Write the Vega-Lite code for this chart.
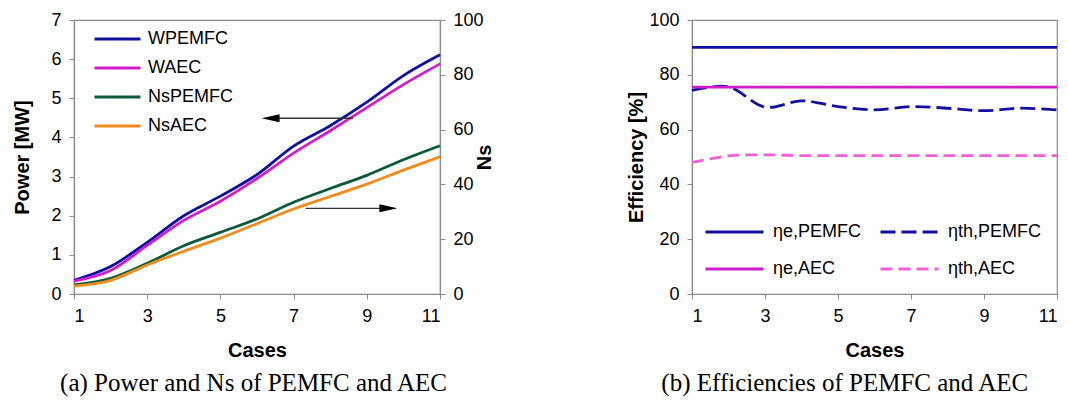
{
  "$schema": "https://vega.github.io/schema/vega-lite/v6.json",
  "padding": {"left": 12, "top": 10, "right": 5, "bottom": 5},
  "background": "white",
  "config": {
    "view": {"stroke": "#8c8c8c", "strokeWidth": 1.2},
    "axis": {
      "grid": false, "domainColor": "#8c8c8c", "domainWidth": 1.2, "tickColor": "#8c8c8c", "tickSize": 5,
      "labelFont": "Liberation Sans", "labelFontSize": 18, "labelColor": "black", "labelPadding": 8,
      "titleFont": "Liberation Sans", "titleFontSize": 20, "titleFontWeight": "bold", "titleColor": "black"
    },
    "legend": {
      "labelFont": "Liberation Sans", "labelFontSize": 18, "labelColor": "black", "symbolType": "M-1,0H3", "symbolStrokeWidth": 2.8
    },
    "title": {"font": "Liberation Serif", "fontSize": 25, "fontWeight": "normal", "color": "black", "orient": "bottom", "anchor": "middle", "frame": "bounds", "offset": 11}
  },
  "datasets": {
    "power": [
      {"series": "WPEMFC", "case": 1, "value": 0.35}, {"series": "WPEMFC", "case": 2, "value": 0.70}, {"series": "WPEMFC", "case": 3, "value": 1.32}, {"series": "WPEMFC", "case": 4, "value": 2.00}, {"series": "WPEMFC", "case": 5, "value": 2.50}, {"series": "WPEMFC", "case": 6, "value": 3.05}, {"series": "WPEMFC", "case": 7, "value": 3.78}, {"series": "WPEMFC", "case": 8, "value": 4.30}, {"series": "WPEMFC", "case": 9, "value": 4.90}, {"series": "WPEMFC", "case": 10, "value": 5.58}, {"series": "WPEMFC", "case": 11, "value": 6.11},
      {"series": "WAEC", "case": 1, "value": 0.33}, {"series": "WAEC", "case": 2, "value": 0.60}, {"series": "WAEC", "case": 3, "value": 1.24}, {"series": "WAEC", "case": 4, "value": 1.88}, {"series": "WAEC", "case": 5, "value": 2.37}, {"series": "WAEC", "case": 6, "value": 2.95}, {"series": "WAEC", "case": 7, "value": 3.60}, {"series": "WAEC", "case": 8, "value": 4.17}, {"series": "WAEC", "case": 9, "value": 4.76}, {"series": "WAEC", "case": 10, "value": 5.35}, {"series": "WAEC", "case": 11, "value": 5.88}
    ],
    "ns": [
      {"series": "NsPEMFC", "case": 1, "value": 3.3}, {"series": "NsPEMFC", "case": 2, "value": 5.7}, {"series": "NsPEMFC", "case": 3, "value": 11.2}, {"series": "NsPEMFC", "case": 4, "value": 17.6}, {"series": "NsPEMFC", "case": 5, "value": 22.5}, {"series": "NsPEMFC", "case": 6, "value": 27.4}, {"series": "NsPEMFC", "case": 7, "value": 33.5}, {"series": "NsPEMFC", "case": 8, "value": 38.5}, {"series": "NsPEMFC", "case": 9, "value": 43.3}, {"series": "NsPEMFC", "case": 10, "value": 49.0}, {"series": "NsPEMFC", "case": 11, "value": 54.1},
      {"series": "NsAEC", "case": 1, "value": 2.9}, {"series": "NsAEC", "case": 2, "value": 5.0}, {"series": "NsAEC", "case": 3, "value": 10.6}, {"series": "NsAEC", "case": 4, "value": 15.6}, {"series": "NsAEC", "case": 5, "value": 20.4}, {"series": "NsAEC", "case": 6, "value": 25.7}, {"series": "NsAEC", "case": 7, "value": 31.0}, {"series": "NsAEC", "case": 8, "value": 35.6}, {"series": "NsAEC", "case": 9, "value": 40.1}, {"series": "NsAEC", "case": 10, "value": 45.2}, {"series": "NsAEC", "case": 11, "value": 50.1}
    ],
    "arrows": [
      {"case": 8.62, "case2": 6.6, "value": 4.49, "head": 6.37, "dir": "left"},
      {"case": 7.33, "case2": 9.4, "value": 2.19, "head": 9.59, "dir": "right"}
    ],
    "eff": [
      {"series": "ηe,PEMFC", "case": 1, "value": 90}, {"series": "ηe,PEMFC", "case": 2, "value": 90}, {"series": "ηe,PEMFC", "case": 3, "value": 90}, {"series": "ηe,PEMFC", "case": 4, "value": 90}, {"series": "ηe,PEMFC", "case": 5, "value": 90}, {"series": "ηe,PEMFC", "case": 6, "value": 90}, {"series": "ηe,PEMFC", "case": 7, "value": 90}, {"series": "ηe,PEMFC", "case": 8, "value": 90}, {"series": "ηe,PEMFC", "case": 9, "value": 90}, {"series": "ηe,PEMFC", "case": 10, "value": 90}, {"series": "ηe,PEMFC", "case": 11, "value": 90},
      {"series": "ηth,PEMFC", "case": 1, "value": 74.3}, {"series": "ηth,PEMFC", "case": 2, "value": 75.6}, {"series": "ηth,PEMFC", "case": 3, "value": 68.2}, {"series": "ηth,PEMFC", "case": 4, "value": 70.5}, {"series": "ηth,PEMFC", "case": 5, "value": 68.4}, {"series": "ηth,PEMFC", "case": 6, "value": 67.2}, {"series": "ηth,PEMFC", "case": 7, "value": 68.4}, {"series": "ηth,PEMFC", "case": 8, "value": 67.8}, {"series": "ηth,PEMFC", "case": 9, "value": 66.9}, {"series": "ηth,PEMFC", "case": 10, "value": 67.8}, {"series": "ηth,PEMFC", "case": 11, "value": 67.2},
      {"series": "ηe,AEC", "case": 1, "value": 75.5}, {"series": "ηe,AEC", "case": 2, "value": 75.5}, {"series": "ηe,AEC", "case": 3, "value": 75.5}, {"series": "ηe,AEC", "case": 4, "value": 75.5}, {"series": "ηe,AEC", "case": 5, "value": 75.5}, {"series": "ηe,AEC", "case": 6, "value": 75.5}, {"series": "ηe,AEC", "case": 7, "value": 75.5}, {"series": "ηe,AEC", "case": 8, "value": 75.5}, {"series": "ηe,AEC", "case": 9, "value": 75.5}, {"series": "ηe,AEC", "case": 10, "value": 75.5}, {"series": "ηe,AEC", "case": 11, "value": 75.5},
      {"series": "ηth,AEC", "case": 1, "value": 48.0}, {"series": "ηth,AEC", "case": 2, "value": 50.4}, {"series": "ηth,AEC", "case": 3, "value": 50.8}, {"series": "ηth,AEC", "case": 4, "value": 50.5}, {"series": "ηth,AEC", "case": 5, "value": 50.5}, {"series": "ηth,AEC", "case": 6, "value": 50.5}, {"series": "ηth,AEC", "case": 7, "value": 50.5}, {"series": "ηth,AEC", "case": 8, "value": 50.5}, {"series": "ηth,AEC", "case": 9, "value": 50.5}, {"series": "ηth,AEC", "case": 10, "value": 50.5}, {"series": "ηth,AEC", "case": 11, "value": 50.5}
    ]
  },
  "resolve": {"scale": {"color": "independent", "strokeDash": "independent"}, "legend": {"color": "independent", "strokeDash": "independent"}},
  "hconcat": [
    {
      "width": 366, "height": 274,
      "title": {"text": "(a) Power and Ns of PEMFC and AEC"},
      "encoding": {
        "x": {"field": "case", "type": "quantitative", "scale": {"domain": [1, 11], "nice": false, "zero": false},
              "axis": {"values": [1, 3, 5, 7, 9, 11], "title": "Cases", "titlePadding": 15}}
      },
      "layer": [
        {
          "data": {"name": "power"},
          "mark": {"type": "line", "interpolate": "monotone", "strokeWidth": 2.8},
          "encoding": {
            "y": {"field": "value", "type": "quantitative", "scale": {"domain": [0, 7], "nice": false},
                  "axis": {"values": [0, 1, 2, 3, 4, 5, 6, 7], "title": "Power [MW]", "titlePadding": 18}},
            "color": {"field": "series", "type": "nominal",
                      "scale": {"domain": ["WPEMFC", "WAEC", "NsPEMFC", "NsAEC"], "range": ["#10109e", "#d01ccc", "#0b5a3a", "#f08c1c"]},
                      "legend": {"title": null, "orient": "none", "legendX": 19, "legendY": 6, "symbolSize": 529, "rowPadding": 7, "labelOffset": 29}}
          }
        },
        {
          "data": {"name": "ns"},
          "mark": {"type": "line", "interpolate": "monotone", "strokeWidth": 2.8},
          "encoding": {
            "y": {"field": "value", "type": "quantitative", "scale": {"domain": [0, 100], "nice": false},
                  "axis": {"orient": "right", "values": [0, 20, 40, 60, 80, 100], "title": "Ns", "titleAngle": 270, "titlePadding": 11}},
            "color": {"field": "series", "type": "nominal"}
          }
        },
        {
          "data": {"name": "arrows"},
          "mark": {"type": "rule", "color": "#333333", "strokeWidth": 1.3},
          "encoding": {
            "x2": {"field": "case2"},
            "y": {"field": "value", "type": "quantitative", "scale": {"domain": [0, 7], "nice": false}, "axis": null}
          }
        },
        {
          "data": {"name": "arrows"},
          "mark": {"type": "point", "filled": true, "color": "black", "opacity": 1, "size": 324},
          "encoding": {
            "x": {"field": "head", "type": "quantitative"},
            "y": {"field": "value", "type": "quantitative", "scale": {"domain": [0, 7], "nice": false}, "axis": null},
            "shape": {"field": "dir", "type": "nominal", "scale": {"domain": ["left", "right"], "range": ["M-1,0L1,-0.45L1,0.45Z", "M1,0L-1,-0.45L-1,0.45Z"]}, "legend": null}
          }
        }
      ],
      "resolve": {"scale": {"y": "independent"}}
    },
    {
      "width": 365, "height": 274,
      "title": {"text": "(b) Efficiencies of PEMFC and AEC"},
      "data": {"name": "eff"},
      "mark": {"type": "line", "interpolate": "catmull-rom", "strokeWidth": 2.8},
      "encoding": {
        "x": {"field": "case", "type": "quantitative", "scale": {"domain": [1, 11], "nice": false, "zero": false},
              "axis": {"values": [1, 3, 5, 7, 9, 11], "title": "Cases", "titlePadding": 15}},
        "y": {"field": "value", "type": "quantitative", "scale": {"domain": [0, 100], "nice": false},
              "axis": {"values": [0, 20, 40, 60, 80, 100], "title": "Efficiency [%]", "titlePadding": 2}},
        "color": {"field": "series", "type": "nominal",
                  "scale": {"domain": ["ηe,PEMFC", "ηe,AEC", "ηth,PEMFC", "ηth,AEC"], "range": ["#10109e", "#d01ccc", "#10109e", "#f060d8"]},
                  "legend": {"title": null, "orient": "none", "legendX": 12, "legendY": 196, "columns": 2, "columnPadding": 12, "symbolSize": 841, "rowPadding": 12, "labelOffset": 37}},
        "strokeDash": {"field": "series", "type": "nominal",
                       "scale": {"domain": ["ηe,PEMFC", "ηe,AEC", "ηth,PEMFC", "ηth,AEC"], "range": [[1, 0], [1, 0], [15, 6], [12, 6]]},
                       "legend": {"title": null, "orient": "none", "legendX": 12, "legendY": 196, "columns": 2, "columnPadding": 12, "symbolSize": 841, "rowPadding": 12, "labelOffset": 37}}
      }
    }
  ],
  "spacing": 131
}
